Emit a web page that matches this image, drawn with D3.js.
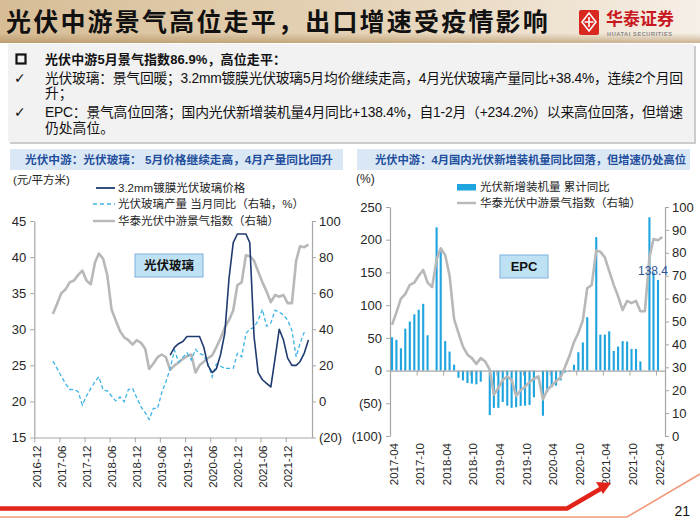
<!DOCTYPE html>
<html><head><meta charset="utf-8">
<script src="https://cdn.jsdelivr.net/npm/d3@7"></script>
<style>html,body{margin:0;padding:0;background:#fff;}svg{display:block;}</style>
</head><body>
<svg id="c" width="700" height="525"></svg>
<script>
function monthRange(a, b) {
  const p = d3.timeParse("%Y-%m");
  return d3.timeMonth.range(p(a), d3.timeMonth.offset(p(b), 1)).map(d3.timeFormat("%Y-%m"));
}

// ---------- data ----------
const leftXTicks = ["2016-12","2017-06","2017-12","2018-06","2018-12","2019-06","2019-12","2020-06","2020-12","2021-06","2021-12"];
const rightXTicks = ["2017-04","2017-10","2018-04","2018-10","2019-04","2019-10","2020-04","2020-10","2021-04","2021-10","2022-04"];
const priceTicks = [15,20,25,30,35,40,45];
const glassPctTicks = [-20,0,20,40,60,80,100];
const installTicks = [-100,-50,0,50,100,150,200,250];
const indexTicks = [0,10,20,30,40,50,60,70,80,90,100];

// 华泰光伏中游景气指数 2017-04 .. 2022-05
const indexMonths = monthRange("2017-04","2022-05");
const midstreamIndex = [48.5,54,60,62,66,67,70,72.5,67,65,77,82,79,70,51,45,39,35.5,34,31.5,34,32.5,29,18,21,24.5,26,24.5,17.5,20,21.5,23.5,25,26,16,20,22,24,25.5,30,35,41,45,50.5,64.5,66,81,80.5,78,72,66,61,55,59,58,59,54.5,54.5,78,86,85.5,86.9];

// 光伏玻璃产量 当月同比 2017-04 .. 2022-04
const glassOutputMonths = monthRange("2017-04","2022-04");
const glassOutputYoY = [22.3,18.3,14,10,6.6,6.5,5.5,-2,3,7.2,11,13.6,6.3,5.9,3,0.3,2.5,-0.2,6.6,7.2,2,-3,-6.3,-10,-3.9,-3.9,5,10.9,18.3,28.4,21.9,24.4,26.9,22.9,28.8,26.6,25.6,21,13.6,20.7,19.5,18.3,18.3,18.3,26.6,24.7,37.7,40,41,45,51,41.7,43.5,50.6,49.5,48,45,39.5,24.7,32.1,38.4];

// 3.2mm镀膜光伏玻璃价格 2019-08 .. 2022-05
const glassPriceMonths = monthRange("2019-08","2022-05");
const glassPrice = [26.4,27.5,28,28.3,29, 29,29,29,27.5,25,24,24.5,26.5,29.5,37,42,43.2, 43.2,43.2,42,29,24,23,22.5,22,26,30,28.5,26, 25,25,25.5,26.7,28.5];

// 光伏新增装机量 累计同比 2017-04 .. 2022-04 (January not published)
const installMonths = monthRange("2017-04","2022-04");
const installYoY = [51,47,34,64,75,86,93,102,54,
  null,219,185,45,29,9,-11,-15,-19,-20,-21,-17,
  null,-68,-57,-57,-48,-53.6,-57,-56,-54,-53.6,-52.5,-40.8,
  null,-69,-33,-25.5,-23,-15,-3,-1,9,28,43,81.6,
  null,204,55,55,60,30,36.7,45,44.4,33,33,14,
  null,234.2,150,138.4];

const textLines = [
  "光伏玻璃：景气回暖；3.2mm镀膜光伏玻璃5月均价继续走高，4月光伏玻璃产量同比+38.4%，连续2个月回",
  "升；",
  "EPC：景气高位回落；国内光伏新增装机量4月同比+138.4%，自1-2月（+234.2%）以来高位回落，但增速",
  "仍处高位。"
];

// ---------- helpers ----------
const FONT = "'Liberation Sans', Arial, 'Noto Sans CJK SC', sans-serif";
const CJK = "'Noto Sans CJK SC', sans-serif";
const pm = d3.timeParse("%Y-%m");
const mid = s => d3.timeDay.offset(pm(s), 14);
const fmtNeg = d => d < 0 ? `(${-d})` : `${d}`;
const AX = "#a6a6a6", LBL = "#262626";

const svg = d3.select("#c");
const defs = svg.append("defs");
const g1 = defs.append("linearGradient").attr("id","bannerGrad").attr("x1",0).attr("x2",1).attr("y1",0).attr("y2",0);
g1.append("stop").attr("offset","0%").attr("stop-color","#d6bd96");
g1.append("stop").attr("offset","55%").attr("stop-color","#e6d4b9");
g1.append("stop").attr("offset","100%").attr("stop-color","#f6efe6");
const g2 = defs.append("linearGradient").attr("id","bannerShade").attr("x1",0).attr("x2",0).attr("y1",0).attr("y2",1);
g2.append("stop").attr("offset","0%").attr("stop-color","#a8844f").attr("stop-opacity",0);
g2.append("stop").attr("offset","100%").attr("stop-color","#a8844f").attr("stop-opacity",0.55);

// ---------- banner ----------
svg.append("rect").attr("x",0).attr("y",0).attr("width",700).attr("height",43).attr("fill","url(#bannerGrad)");
svg.append("rect").attr("x",0).attr("y",33).attr("width",700).attr("height",10).attr("fill","url(#bannerShade)");
svg.append("text").attr("x",6).attr("y",31).attr("font-family",CJK).attr("font-weight",700)
  .attr("font-size",25).attr("letter-spacing",2.2).attr("fill","#111")
  .text("光伏中游景气高位走平，出口增速受疫情影响");
// logo
svg.append("rect").attr("x",579).attr("y",10).attr("width",20).attr("height",25).attr("rx",2).attr("fill","#d8281f");
svg.append("path").attr("d","M589,13 L596,22 L589,31 L582,22 Z M589,17 L589,27 M584.5,22 L593.5,22")
  .attr("fill","none").attr("stroke","#fff").attr("stroke-width",1.6);
svg.append("text").attr("x",606).attr("y",25).attr("font-family",CJK).attr("font-weight",700)
  .attr("font-size",17).attr("fill","#c8171e").text("华泰证券");
svg.append("text").attr("x",607).attr("y",36).attr("font-family",FONT).attr("font-weight",700)
  .attr("font-size",5.6).attr("letter-spacing",0.6).attr("fill","#8a8a8a").text("HUATAI SECURITIES");

// ---------- text box ----------
svg.append("rect").attr("x",10).attr("y",46).attr("width",686).attr("height",98).attr("fill","#cccccc");
svg.append("rect").attr("x",8).attr("y",44).attr("width",686).attr("height",98).attr("fill","#f2f2f2");
svg.append("rect").attr("x",16.5).attr("y",54.5).attr("width",9).attr("height",9).attr("fill","none").attr("stroke","#111").attr("stroke-width",2.2);
svg.append("text").attr("x",45).attr("y",64).attr("font-family",FONT).attr("font-weight",700)
  .attr("font-size",13).attr("fill","#111").attr("textLength",241).attr("lengthAdjust","spacing")
  .text("光伏中游5月景气指数86.9%，高位走平：");
const lineY = [83, 98, 117, 133];
textLines.forEach((t, i) => {
  const el = svg.append("text").attr("x",45).attr("y",lineY[i]).attr("font-family",FONT)
    .attr("font-size",13.8).attr("fill","#111").text(t);
  if (i === 0 || i === 2) el.attr("textLength",638).attr("lengthAdjust","spacing");
});
[83, 117].forEach(y => svg.append("text").attr("x",14).attr("y",y).attr("font-family","'DejaVu Sans', sans-serif")
  .attr("font-size",14).attr("fill","#111").text("✓"));

// ---------- chart title bands ----------
svg.append("rect").attr("x",10).attr("y",149).attr("width",333).attr("height",21).attr("fill","#dae7f5");
svg.append("rect").attr("x",357).attr("y",149).attr("width",333).attr("height",21).attr("fill","#dae7f5");
svg.append("text").attr("x",25).attr("y",164).attr("font-family",FONT).attr("font-weight",700)
  .attr("font-size",11.5).attr("fill","#1f4e9c").attr("textLength",308).attr("lengthAdjust","spacingAndGlyphs")
  .text("光伏中游：光伏玻璃： 5月价格继续走高，4月产量同比回升");
svg.append("text").attr("x",375).attr("y",164).attr("font-family",FONT).attr("font-weight",700)
  .attr("font-size",11.5).attr("fill","#1f4e9c").attr("textLength",311).attr("lengthAdjust","spacingAndGlyphs")
  .text("光伏中游：4月国内光伏新增装机量同比回落，但增速仍处高位");

function styleAxis(sel, fs) {
  sel.selectAll(".domain").attr("stroke",AX).attr("stroke-width",1.2);
  sel.selectAll(".tick line").attr("stroke",AX).attr("stroke-width",1);
  sel.selectAll("text").attr("font-family",FONT).attr("font-size",fs).attr("fill",LBL);
}

// ---------- LEFT CHART ----------
{
  const x = d3.scaleTime().domain([pm("2016-12"), new Date(2022,5,10)]).range([34.3, 312]);
  const yL = d3.scaleLinear().domain([15,45]).range([437.5,221]);
  const yR = d3.scaleLinear().domain([-20,100]).range([437.5,221]);
  const g = svg.append("g");

  const ax1 = g.append("g").attr("transform","translate(34.3,0)")
    .call(d3.axisLeft(yL).tickValues(priceTicks).tickSize(4).tickPadding(4).tickSizeOuter(0));
  styleAxis(ax1, 13);
  const ax2 = g.append("g").attr("transform","translate(312,0)")
    .call(d3.axisRight(yR).tickValues(glassPctTicks).tickFormat(fmtNeg).tickSize(4).tickPadding(3).tickSizeOuter(0));
  styleAxis(ax2, 13);
  const ax3 = g.append("g").attr("transform","translate(0,437.5)")
    .call(d3.axisBottom(x).tickValues(leftXTicks.map(pm)).tickSize(5).tickFormat(d3.timeFormat("%Y-%m")).tickSizeOuter(0));
  styleAxis(ax3, 11.5);
  ax3.selectAll(".tick text").attr("text-anchor","end").attr("transform","translate(2,8) rotate(-90)")
    .attr("x",0).attr("y",0).attr("dy","0.35em");

  const lineIdx = d3.line().x((d,i) => x(mid(indexMonths[i]))).y(d => yR(d));
  g.append("path").datum(midstreamIndex).attr("d",lineIdx).attr("fill","none")
    .attr("stroke","#b8b8b8").attr("stroke-width",2.6).attr("stroke-linejoin","round");
  const lineOut = d3.line().x((d,i) => x(mid(glassOutputMonths[i]))).y(d => yR(d));
  g.append("path").datum(glassOutputYoY).attr("d",lineOut).attr("fill","none")
    .attr("stroke","#3db4e6").attr("stroke-width",1.3).attr("stroke-dasharray","4,2.5");
  const linePrice = d3.line().x((d,i) => x(mid(glassPriceMonths[i]))).y(d => yL(d));
  g.append("path").datum(glassPrice).attr("d",linePrice).attr("fill","none")
    .attr("stroke","#1f3a6e").attr("stroke-width",1.6).attr("stroke-linejoin","round");

  g.append("text").attr("x",13).attr("y",184).attr("font-family",FONT).attr("font-size",11.5).attr("fill",LBL).text("(元/平方米)");
  g.append("line").attr("x1",96).attr("x2",115).attr("y1",188).attr("y2",188).attr("stroke","#1f3a6e").attr("stroke-width",1.8);
  g.append("line").attr("x1",93).attr("x2",115).attr("y1",204).attr("y2",204).attr("stroke","#3db4e6").attr("stroke-width",1.4).attr("stroke-dasharray","4,3");
  g.append("line").attr("x1",93).attr("x2",115).attr("y1",221).attr("y2",221).attr("stroke","#b8b8b8").attr("stroke-width",2.4);
  const leg = [["3.2mm镀膜光伏玻璃价格",192],["光伏玻璃产量 当月同比（右轴，%）",208],["华泰光伏中游景气指数（右轴）",225]];
  leg.forEach(([t,y]) => g.append("text").attr("x",118).attr("y",y).attr("font-family",FONT).attr("font-size",11.5).attr("fill",LBL).text(t));

  g.append("rect").attr("x",135).attr("y",254).attr("width",68).attr("height",23).attr("fill","#bfe1f4").attr("stroke","#7fb0da").attr("stroke-width",1);
  g.append("text").attr("x",169).attr("y",270).attr("text-anchor","middle").attr("font-family",CJK).attr("font-weight",700)
    .attr("font-size",12.5).attr("fill","#111").text("光伏玻璃");
}

// ---------- RIGHT CHART ----------
{
  const x = d3.scaleTime().domain([pm("2017-04"), new Date(2022,5,2)]).range([390, 665]);
  const yL = d3.scaleLinear().domain([-100,250]).range([436,207]);
  const yR = d3.scaleLinear().domain([0,100]).range([436,207]);
  const g = svg.append("g");

  const ax1 = g.append("g").attr("transform","translate(390,0)")
    .call(d3.axisLeft(yL).tickValues(installTicks).tickFormat(fmtNeg).tickSize(4).tickPadding(4).tickSizeOuter(0));
  styleAxis(ax1, 13);
  const ax2 = g.append("g").attr("transform","translate(665,0)")
    .call(d3.axisRight(yR).tickValues(indexTicks).tickSize(4).tickPadding(3).tickSizeOuter(0));
  styleAxis(ax2, 13);

  const data = installMonths.map((m,i) => ({m, v: installYoY[i]})).filter(d => d.v !== null);
  g.selectAll("rect.bar").data(data).enter().append("rect").attr("class","bar")
    .attr("x", d => x(mid(d.m)) - 1.05).attr("width", 2.1)
    .attr("y", d => Math.min(yL(d.v), yL(0))).attr("height", d => Math.abs(yL(d.v) - yL(0)))
    .attr("fill","#1ea4de");

  const ax3 = g.append("g").attr("transform",`translate(0,${yL(0)})`)
    .call(d3.axisBottom(x).tickValues(rightXTicks.map(pm)).tickSize(5).tickFormat(d3.timeFormat("%Y-%m")).tickSizeOuter(0));
  styleAxis(ax3, 11.5);
  const dropY = 436 - yL(0) + 7;
  ax3.selectAll(".tick text").attr("text-anchor","end").attr("transform",`translate(3,${dropY}) rotate(-90)`)
    .attr("x",0).attr("y",0).attr("dy","0.35em");

  const lineIdx = d3.line().x((d,i) => x(mid(indexMonths[i]))).y(d => yR(d));
  g.append("path").datum(midstreamIndex).attr("d",lineIdx).attr("fill","none")
    .attr("stroke","#b8b8b8").attr("stroke-width",2.6).attr("stroke-linejoin","round");

  const last = data[data.length-1];
  g.append("text").attr("x", 668).attr("y", yL(last.v) - 5).attr("text-anchor","end")
    .attr("font-family",FONT).attr("font-size",12).attr("fill","#2f5597").text(last.v.toFixed(1));

  g.append("text").attr("x",356).attr("y",183).attr("font-family",FONT).attr("font-size",12).attr("fill",LBL).text("(%)");
  g.append("rect").attr("x",457).attr("y",184).attr("width",19).attr("height",6.5).attr("fill","#1ea4de");
  g.append("line").attr("x1",457).attr("x2",476).attr("y1",203).attr("y2",203).attr("stroke","#b8b8b8").attr("stroke-width",2.4);
  g.append("text").attr("x",480).attr("y",191).attr("font-family",FONT).attr("font-size",11.5).attr("fill",LBL).text("光伏新增装机量 累计同比");
  g.append("text").attr("x",480).attr("y",207).attr("font-family",FONT).attr("font-size",11.5).attr("fill",LBL).text("华泰光伏中游景气指数（右轴）");

  g.append("rect").attr("x",500).attr("y",255).attr("width",48).attr("height",23).attr("fill","#bfe1f4").attr("stroke","#7fb0da").attr("stroke-width",1);
  g.append("text").attr("x",524).attr("y",271).attr("text-anchor","middle").attr("font-family",FONT).attr("font-weight",700)
    .attr("font-size",13).attr("fill","#111").text("EPC");
}

// ---------- footer ----------
svg.append("path").attr("d","M700,474 L627,517 L0,517").attr("fill","none").attr("stroke","#f2997a").attr("stroke-width",1.6);
svg.append("path").attr("d","M0,508.5 L567,508.5 L602,488").attr("fill","none").attr("stroke","#e2231a").attr("stroke-width",4.5);
svg.append("path").attr("d","M611,483 L596,482 L603,494 Z").attr("fill","#e2231a");
svg.append("text").attr("x",690).attr("y",516).attr("text-anchor","end").attr("font-family",FONT).attr("font-size",14).attr("fill","#111").text("21");
</script>
</body></html>
